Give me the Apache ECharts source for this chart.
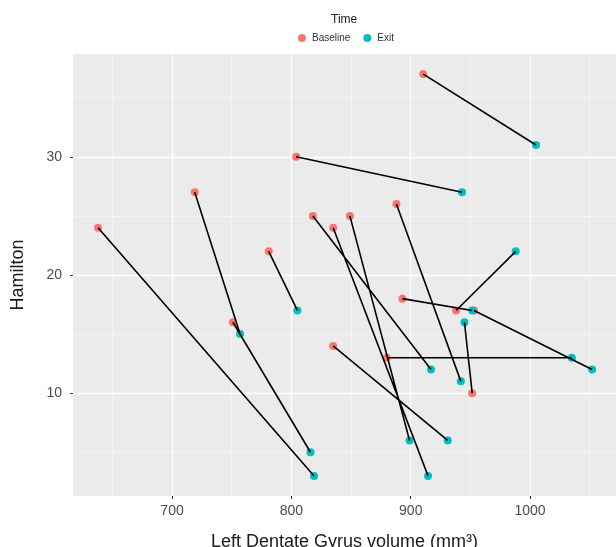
<!DOCTYPE html>
<html>
<head>
<meta charset="utf-8">
<script src="https://cdn.jsdelivr.net/npm/echarts@6/dist/echarts.min.js"></script>
<style>
  html, body { margin: 0; padding: 0; background: #fff; }
  #chart { width: 616px; height: 547px; }
</style>
</head>
<body>
<div id="chart"></div>
<script>
// one entry per subject: baseline -> exit
const baselineX = [638, 719, 751, 781, 804, 910.5, 818, 835, 849, 888, 893, 938, 953, 951.5, 880, 835]
const baselineY = [24, 27, 16, 22, 30, 37, 25, 24, 25, 26, 18, 17, 17, 10, 13, 14]
const exitX = [819, 757, 816, 805, 943, 1005, 917, 914.5, 899, 942, 951.5, 988, 1052, 945, 1035, 931]
const exitY = [3, 15, 5, 17, 27, 31, 12, 3, 6, 11, 17, 22, 12, 16, 13, 6]

const xTicks = [700, 800, 900, 1000]
const xMinor = [650, 750, 850, 950, 1050]
const yTicks = [10, 20, 30]
const yMinor = [5, 15, 25, 35]

const font = 'Liberation Sans'

const baselinePts = baselineX.map((x, i) => [x, baselineY[i]])
const exitPts = exitX.map((x, i) => [x, exitY[i]])
const pathData = []
baselinePts.forEach((p, i) => {
  pathData.push(p, exitPts[i], '-')
})

const chart = echarts.init(document.getElementById('chart'))

const majorAxis = (ticks) => ({
  type: 'value',
  offset: 0,
  axisLine: { show: false },
  axisTick: { show: true, length: 3, customValues: ticks, lineStyle: { color: '#333', width: 1 } },
  axisLabel: { customValues: ticks, color: '#4d4d4d', fontSize: 14, fontFamily: font, formatter: v => String(v) },
  splitLine: { show: true, lineStyle: { color: '#ffffff', width: 1.4 } }
})
const minorAxis = (ticks) => ({
  type: 'value',
  offset: 0,
  axisLine: { show: false },
  axisTick: { show: false, customValues: ticks },
  axisLabel: { show: false, customValues: ticks },
  splitLine: { show: true, lineStyle: { color: '#f6f6f6', width: 0.7 } }
})

const option = {
  animation: false,
  backgroundColor: '#ffffff',
  title: {
    text: 'Time',
    left: 331,
    top: 14,
    padding: 0,
    textStyle: { fontSize: 12, fontWeight: 'normal', color: '#1a1a1a', fontFamily: font }
  },
  legend: {
    data: ['Baseline', 'Exit'],
    left: 298,
    top: 33,
    padding: 0,
    icon: 'circle',
    itemWidth: 8,
    itemHeight: 8,
    itemGap: 13,
    textStyle: { fontSize: 10, color: '#333', fontFamily: font, padding: [0, 0, 0, 1] }
  },
  grid: {
    left: 73, right: 0, top: 54, bottom: 51,
    show: true, backgroundColor: '#ebebeb', borderWidth: 0,
    outerBoundsMode: 'none', containLabel: false
  },
  xAxis: [
    Object.assign(minorAxis(xMinor), { position: 'bottom', min: 617, max: 1072 }),
    Object.assign(majorAxis(xTicks), {
      position: 'bottom',
      min: 617, max: 1072,
      name: 'Left Dentate Gyrus volume (mm³)',
      nameLocation: 'middle',
      nameGap: 37,
      nameTextStyle: { fontSize: 18, color: '#1a1a1a', fontFamily: font, verticalAlign: 'top' },
      axisLabel: { customValues: xTicks, color: '#4d4d4d', fontSize: 14, fontFamily: font, margin: 8, formatter: v => String(v) }
    })
  ],
  yAxis: [
    Object.assign(minorAxis(yMinor), { position: 'left', min: 1.3, max: 38.7 }),
    Object.assign(majorAxis(yTicks), {
      position: 'left',
      min: 1.3, max: 38.7,
      name: 'Hamilton',
      nameLocation: 'middle',
      nameGap: 46,
      nameTextStyle: { fontSize: 18, color: '#1a1a1a', fontFamily: font },
      axisLabel: { customValues: yTicks, color: '#4d4d4d', fontSize: 14, fontFamily: font, margin: 11 }
    })
  ],
  series: [
    {
      name: 'Baseline',
      type: 'scatter',
      xAxisIndex: 1,
      yAxisIndex: 1,
      symbolSize: 8,
      itemStyle: { color: '#F8766D', opacity: 1 },
      data: baselinePts,
      z: 3
    },
    {
      name: 'Exit',
      type: 'scatter',
      xAxisIndex: 1,
      yAxisIndex: 1,
      symbolSize: 8,
      itemStyle: { color: '#00BFC4', opacity: 1 },
      data: exitPts,
      z: 3
    },
    {
      name: 'path',
      type: 'line',
      xAxisIndex: 1,
      yAxisIndex: 1,
      data: pathData,
      showSymbol: false,
      connectNulls: false,
      lineStyle: { color: '#000', width: 1.6 },
      emphasis: { disabled: true },
      z: 4
    }
  ]
}

chart.setOption(option)
</script>
</body>
</html>
